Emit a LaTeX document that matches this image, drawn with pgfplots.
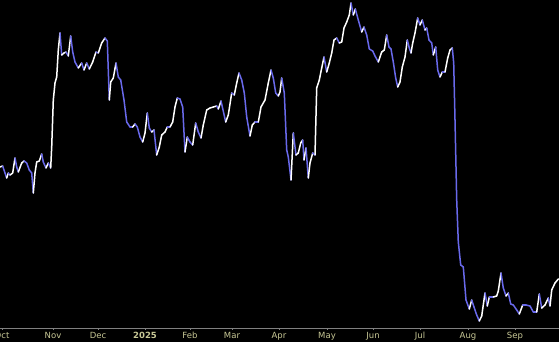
\documentclass[border=0pt]{standalone}
\usepackage{pgfplots}
\usepackage{pgfplotstable}
\pgfplotsset{compat=1.18}
\usepackage{fontspec}
\setmainfont{DejaVu Sans}
\definecolor{lineblue}{RGB}{105,105,235}
\definecolor{labcol}{RGB}{200,200,150}
\definecolor{axgray}{RGB}{128,128,128}

\pgfplotstableread{
px py
0 167
2.7 166
5 173
6.7 178
8.3 173
10 175
12.7 173
15 158
16.7 167
18.3 172
21.7 163
24 161
26.7 163
29.3 170
31.7 173
33.3 193
35 173
36.7 162
39.3 161
41.7 154
43.3 162
46 168
48.3 163
50.7 168
51.7 147
53.3 100
55 83
56.7 77
58.3 50
60 33
61.7 55
64 53
66 52
68.3 56
70.7 36
72.7 52
75 62
78.3 68
81.7 63
84 70
86.7 63
89.3 69
92.7 62
96 52
98.3 53
101.7 43
105 38
107.3 41
109.3 100
110.7 82
113.3 78
116 63
118.3 77
120.7 80
124 100
126.7 122
130 127
132.7 127
135 124
137.3 127
140 137
142.7 142
145 133
147.3 113
149.3 128
151.7 132
154 130
156.7 155
159.3 147
161.7 135
165 132
167.3 127
170 127
172.7 122
175 107
177.3 98
180 99
182.7 107
185 152
187.3 137
190 142
192.7 145
195.7 123
198.3 132
201 138
203.3 125
206.7 110
210 108
213.3 107
216.7 106
218.3 109
221 101
225.7 122
228.3 115
231.7 93
234.3 95
236.7 83
239 73
241.7 80
244.3 93
246.7 117
250 136
252.3 125
255 122
258.3 122
261 107
265 100
268.3 83
271 70
273.3 78
275.7 93
278.3 96
280 92
281.7 78
284.3 93
286.7 150
288.3 157
291 180
293.3 133
296 155
298.3 153
300.7 143
302.7 140
304 160
306 148
308.3 178
310 163
312.7 153
315 155
316.7 88
319.3 80
321.7 68
324 57
326.7 72
329.3 63
331.7 53
334 40
336.7 38
339.3 43
341.7 42
344 28
346.7 22
349.3 15
351 3
353.3 15
355.3 9
358.3 20
361.7 32
364 27
366.7 35
369.3 49
372.7 51
375 56
378.3 62
381.7 52
384.3 50
386.7 35
389 47
391 49
393.3 62
395.7 78
397.7 87
400 82
402.3 67
405 57
407.3 40
409.3 48
411 53
412.7 43
415 33
417.7 18
420 25
422.3 20
425 30
426.7 28
429 40
431.7 43
433.3 55
435.7 47
437.7 70
440 77
442.3 72
445 72
447.7 58
450 50
452.3 48
453.7 63
455 120
456.7 200
458.3 242
460.7 265
463.3 267
466 300
469.3 309
471.7 300
474 307
476.7 315
479.3 321
481.7 316
485 293
487.3 306
489.3 297
493.3 297
496.7 296
498.3 291
501 273
503.3 288
506 296
508.3 293
510.7 304
513.3 305
516.7 310
519.3 314
522.7 305
526 305
530 306
533.3 312
536.7 312
539.3 294
541.7 308
545 305
548.3 298
550 306
551.7 290
555 283
558.3 279
}\data

\pgfplotstablecreatecol[
  create col/assign/.code={%
    \pgfmathparse{\nextrow{py}<\thisrow{py}}%
    \pgfkeyslet{/pgfplots/table/create col/next content}\pgfmathresult},
  create col/assign last/.code={%
    \pgfkeyssetvalue{/pgfplots/table/create col/next content}{1}}
]{u}{\data}

\begin{document}
\begin{tikzpicture}
\fill[black] (0,-14pt) rectangle (559pt,328pt);
\begin{axis}[
  at={(0,0)}, anchor=south west,
  scale only axis, width=559pt, height=328pt,
  xmin=0, xmax=559, ymin=0, ymax=328,
  axis y line=none, axis x line=bottom,
  x axis line style={draw=axgray, line width=0.8pt, -},
  xtick={2,53,98,145,190,232,279,327,373,420,468,515},
  xticklabels={Oct,Nov,Dec,\textbf{2025},Feb,Mar,Apr,May,Jun,Jul,Aug,Sep},
  tick align=outside, major tick length=2pt,
  x tick style={draw=axgray, line width=0.8pt},
  xticklabel style={font=\fontsize{8.5}{9}\selectfont, text=labcol, anchor=north, inner sep=0pt, text height=6.5pt, text depth=0pt, yshift=-2pt},
  clip=false,
  colormap={ud}{color=(lineblue) color=(white)},
  point meta min=0, point meta max=1,
]
\addplot[mesh, shader=flat corner, line width=1.5pt, line cap=round, point meta=explicit]
  table[x=px, y expr={328-\thisrow{py}}, meta=u] {\data};
\end{axis}
\pgfresetboundingbox
\path[use as bounding box] (0,-14pt) rectangle (559pt,328pt);
\end{tikzpicture}
\end{document}
